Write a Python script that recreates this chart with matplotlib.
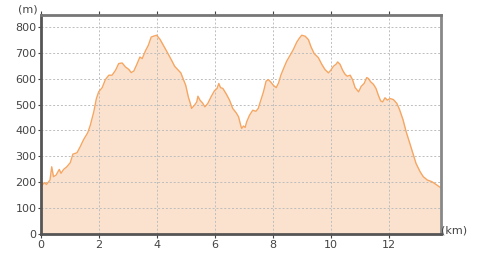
import matplotlib
matplotlib.use("Agg")
import matplotlib.pyplot as plt

distance_km = [0.0, 0.13, 0.2, 0.32, 0.38, 0.44, 0.53, 0.64, 0.7, 0.79, 0.9, 1.02, 1.11, 1.25, 1.36,
               1.48, 1.62, 1.71, 1.83, 1.92, 2.0, 2.12, 2.23, 2.35, 2.46, 2.58, 2.69, 2.81, 2.92,
               3.04, 3.12, 3.21, 3.3, 3.42, 3.5, 3.62, 3.71, 3.81, 3.91, 4.0, 4.12, 4.25, 4.37,
               4.51, 4.62, 4.72, 4.83, 4.92, 5.0, 5.09, 5.16, 5.2, 5.3, 5.38, 5.42, 5.49, 5.58,
               5.66, 5.76, 5.87, 5.99, 6.08, 6.14, 6.2, 6.28, 6.39, 6.51, 6.62, 6.74, 6.82, 6.91,
               6.93, 6.99, 7.05, 7.1, 7.2, 7.31, 7.42, 7.5, 7.59, 7.68, 7.77, 7.85, 7.93, 8.02,
               8.12, 8.2, 8.28, 8.37, 8.48, 8.6, 8.71, 8.83, 8.92, 9.0, 9.12, 9.23, 9.32, 9.43,
               9.52, 9.57, 9.69, 9.8, 9.92, 10.0, 10.09, 10.18, 10.24, 10.32, 10.41, 10.49, 10.57,
               10.67, 10.75, 10.84, 10.96, 11.05, 11.15, 11.24, 11.3, 11.38, 11.47, 11.56, 11.64,
               11.72, 11.79, 11.87, 11.95, 12.05, 12.16, 12.28, 12.37, 12.49, 12.6, 12.71, 12.83,
               12.94, 13.08, 13.19, 13.33, 13.48, 13.63, 13.77]
elevation_m = [183, 199, 192, 209, 260, 222, 228, 250, 235, 250, 260, 276, 309, 314, 337,
               365, 391, 420, 472, 523, 549, 565, 596, 613, 613, 632, 658, 660, 645,
               635, 623, 629, 651, 683, 677, 709, 728, 760, 764, 767, 750, 724, 700,
               671, 647, 635, 622, 596, 574, 529, 504, 485, 497, 510, 532, 517, 506,
               491, 504, 529, 553, 562, 581, 565, 562, 542, 517, 485, 468, 453, 414,
               408, 417, 412, 433, 459, 478, 474, 485, 517, 549, 590, 596, 587, 574,
               565, 583, 613, 638, 667, 690, 712, 741, 756, 767, 763, 750, 722, 696,
               686, 681, 655, 635, 622, 632, 647, 655, 664, 655, 632, 617, 609,
               613, 596, 565, 549, 570, 581, 604, 600, 587, 578, 562, 536,
               514, 510, 526, 517, 523, 519, 504, 481, 442, 395, 356, 312,
               273, 241, 222, 209, 203, 192, 181]

x_ticks = [0, 2, 4, 6, 8, 10, 12]
y_ticks = [0, 100, 200, 300, 400, 500, 600, 700, 800]

fig = plt.figure(figsize=(4.8, 2.54), dpi=100)
ax = fig.add_axes([0.0848, 0.0776, 0.8333, 0.8634])

ax.fill_between(distance_km, elevation_m, 0, color="#FBE2CF", linewidth=0, zorder=1)
ax.plot(distance_km, elevation_m, color="#F5A662", linewidth=1.0, zorder=3)

ax.set_xlim(0, 13.79)
ax.set_ylim(0, 845)
ax.set_xticks(x_ticks)
ax.set_yticks(y_ticks)
ax.grid(True, color="#BDBDBD", linestyle=(0, (2, 2)), linewidth=0.7, zorder=2)
ax.set_axisbelow(False)

for side, col in [("left", "#555555"), ("bottom", "#555555"), ("top", "#777777"), ("right", "#888888")]:
    ax.spines[side].set_color(col)
    ax.spines[side].set_linewidth(2.0)
    ax.spines[side].set_zorder(5)

ax.tick_params(axis="both", labelsize=8, colors="#444444", length=3, width=0.8, pad=1)
ax.tick_params(axis="x", top=True, direction="out")
ax.tick_params(axis="y", direction="out", length=2)

fig.text(0.037, 0.962, "(m)", fontsize=8, color="#444444", ha="left", va="center")
fig.text(0.919, 0.094, "(km)", fontsize=8, color="#444444", ha="left", va="center")

fig.savefig("out.png", dpi=100)
